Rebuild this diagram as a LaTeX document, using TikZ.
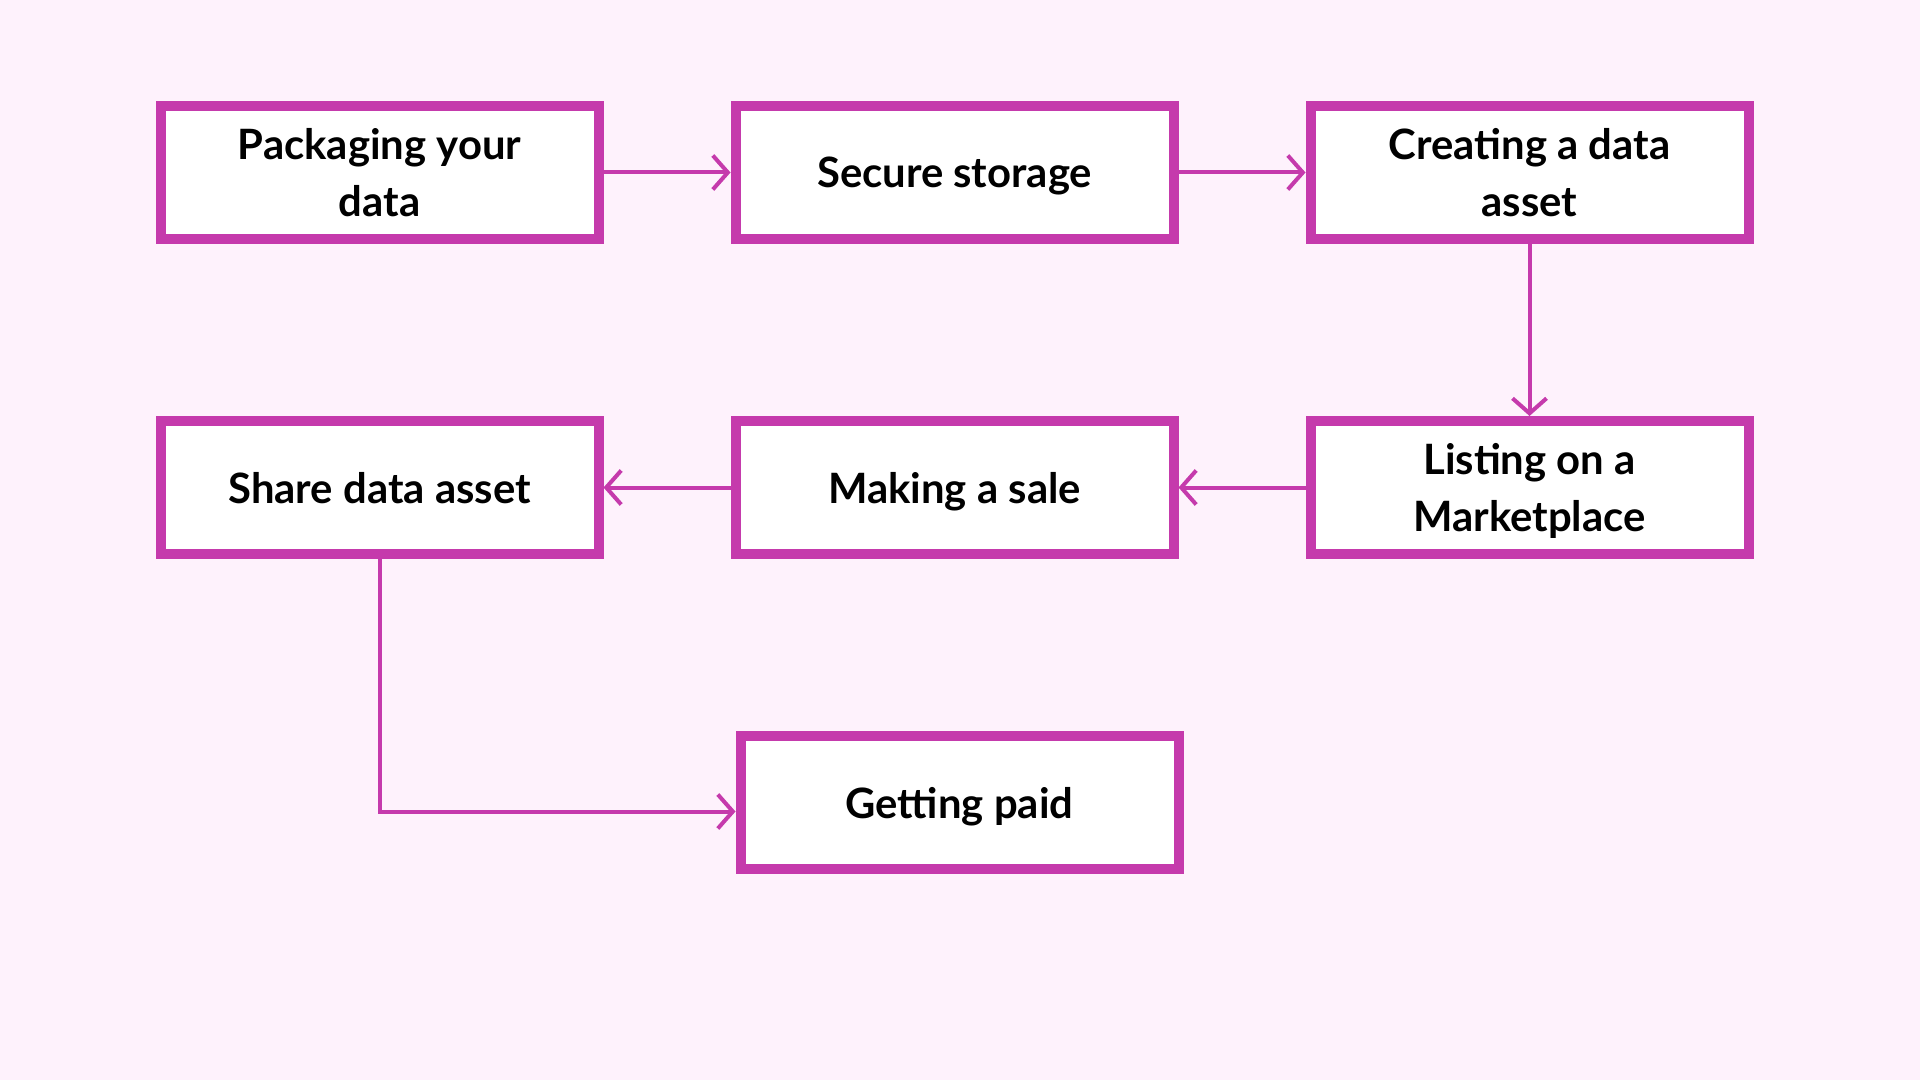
\documentclass[tikz,border=0pt]{standalone}
\usepackage{fontspec}
\setmainfont{Lato}
\usepackage{tikz}
\usetikzlibrary{arrows.meta, positioning}

\definecolor{framepink}{RGB}{197,58,172}
\definecolor{bgpink}{RGB}{254,242,252}

\begin{document}
\begin{tikzpicture}[
        box/.style={rectangle, draw=framepink, line width=0.1cm, fill=white, minimum width=4.38cm, minimum height=1.33cm, text depth=0pt, align=center, font=\fontsize{11.9}{16}\selectfont\bfseries},
        arrow/.style={-{Straight Barb[length=0.15cm, width=0.34cm]}, draw=framepink, line width=0.04cm},
        node distance=1.72cm and 1.27cm
    ]
        % Background
        \fill[bgpink] (0,0) rectangle (19.2,-10.8);
        \useasboundingbox (0,0) rectangle (19.2,-10.8);

        % Top row
        \node[box] (pack) at (3.795,-1.725) {Packaging your\\data};
        \node[box, right=of pack] (store) {Secure storage};
        \node[box, right=of store] (asset) {Creating a data\\asset};

        % Middle row
        \node[box, below=of asset] (market) {Listing on a\\Marketplace};
        \node[box, below=of store] (sale) {Making a sale};
        \node[box, below=of pack] (share) {Share data asset};

        % Bottom
        \node[box, below=of sale, xshift=0.05cm] (paid) {Getting paid};

        % Arrows
        \draw[arrow] (pack) -- (store);
        \draw[arrow] (store) -- (asset);
        \draw[arrow] (asset) -- (market);
        \draw[arrow] (market) -- (sale);
        \draw[arrow] (sale) -- (share);
        \draw[arrow] (share) |- ([yshift=-0.09cm]paid.west);
    \end{tikzpicture}
\end{document}
